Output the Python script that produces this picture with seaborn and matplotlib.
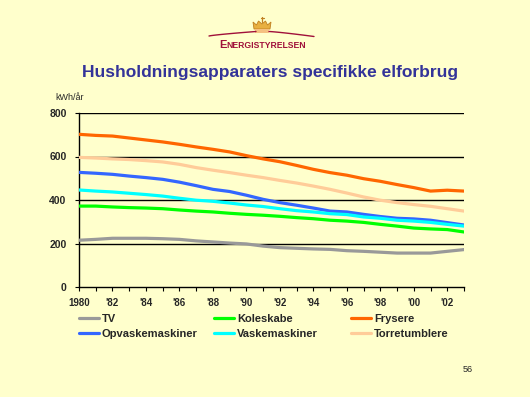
import numpy as np
import pandas as pd
import matplotlib
matplotlib.use("Agg")
import matplotlib.pyplot as plt
from matplotlib.patches import Polygon
from matplotlib.lines import Line2D
import seaborn as sns

years = list(range(1980, 2004))
tv = [215, 219, 224, 224, 224, 222, 219, 212, 207, 202, 198, 188, 181, 178, 175, 173, 167, 164, 160, 156, 156, 156, 164, 172]
koleskabe = [372, 372, 368, 365, 363, 360, 354, 349, 345, 339, 334, 330, 325, 319, 314, 307, 303, 297, 288, 280, 271, 267, 264, 253]
frysere = [702, 697, 694, 685, 676, 667, 656, 644, 633, 621, 604, 589, 576, 559, 541, 526, 514, 498, 486, 471, 457, 441, 445, 441]
opvask = [527, 523, 518, 510, 503, 495, 482, 466, 449, 439, 422, 403, 388, 376, 363, 349, 345, 334, 324, 316, 313, 307, 296, 285]
vaske = [446, 441, 437, 431, 425, 418, 408, 399, 394, 386, 377, 370, 360, 351, 345, 337, 333, 322, 316, 307, 303, 297, 288, 280]
torre = [596, 593, 589, 586, 581, 575, 564, 549, 537, 526, 514, 503, 490, 478, 464, 449, 432, 414, 399, 388, 379, 371, 360, 349]

series_names = ["TV", "Koleskabe", "Frysere", "Opvaskemaskiner", "Vaskemaskiner", "Torretumblere"]
series_vals = [tv, koleskabe, frysere, opvask, vaske, torre]
colors = ["#999999", "#00FF00", "#FF6600", "#3366FF", "#00FFFF", "#FFCC99"]
xtick_vals = list(range(1980, 2004, 2))
xtick_labels = ["1980", "'82", "'84", "'86", "'88", "'90", "'92", "'94", "'96", "'98", "'00", "'02"]
yticks = [0, 200, 400, 600, 800]

title = "Husholdningsapparaters specifikke elforbrug"
bg = "#FFFFCC"

rows = []
for name, vals in zip(series_names, series_vals):
    for y, v in zip(years, vals):
        rows.append({"year": y, "value": v, "series": name})
df = pd.DataFrame(rows)

sns.set_style("white")
plt.rcParams["font.family"] = ["Liberation Sans", "DejaVu Sans"]

W, H = 530, 397
def fx(x):
    return x / W
def fy(y):
    return 1 - y / H

fig = plt.figure(figsize=(5.30, 3.97), dpi=100, facecolor=bg)
ax = fig.add_axes([79/530, 1-287/397, (464-79)/530, (287-113)/397])
ax.set_facecolor(bg)

for g in [200, 400, 600, 800]:
    ax.axhline(g, color="black", lw=1.0, zorder=1)

sns.lineplot(data=df, x="year", y="value", hue="series", hue_order=series_names,
             palette=dict(zip(series_names, colors)), linewidth=2.3, ax=ax,
             legend=False, zorder=3)

ax.set_xlim(1980, 2003)
ax.set_ylim(0, 800)
ax.set_xticks(xtick_vals)
ax.set_xticks(years, minor=True)
ax.set_xticklabels(xtick_labels, fontsize=7, fontweight="bold")
ax.set_yticks(yticks)
ax.set_yticklabels([str(v) for v in yticks], fontsize=7.5, fontweight="bold")
ax.tick_params(axis="x", which="both", direction="out", length=3, width=0.8, color="black", pad=5, bottom=True)
ax.tick_params(axis="y", direction="out", length=3, width=0.8, color="black", pad=6, left=True)
ax.set_xlabel("")
ax.set_ylabel("")
for s in ["top", "right"]:
    ax.spines[s].set_visible(False)
for s in ["left", "bottom"]:
    ax.spines[s].set_color("black")
    ax.spines[s].set_linewidth(1.0)

fig.text(fx(55), fy(97), "kWh/år", fontsize=6.5, ha="left", va="center")

fig.text(fx(270), fy(72), title, fontsize=12.5, fontweight="bold", color="#333399",
         ha="center", va="center")

# legend: three columns placed like the reference
col_x = [79, 214, 351]
for c in range(3):
    idx = [c, c + 3]
    hs = [Line2D([0], [0], color=colors[i], lw=2.3) for i in idx]
    leg = fig.legend(hs, [series_names[i] for i in idx], ncol=1, loc="upper left",
                     bbox_to_anchor=(fx(col_x[c]), fy(314)), frameon=False,
                     fontsize=8, handlelength=1.8, handletextpad=0.25,
                     labelspacing=0.45, borderpad=0, borderaxespad=0)
    for t in leg.get_texts():
        t.set_fontweight("bold")

fig.text(fx(463), fy(370), "56", fontsize=6.5, ha="left", va="center")

# logo: arc
xs_l = np.linspace(209, 256, 30)
ys_l = 36 - 4.5 * ((xs_l - 209) / 47) ** 0.8
xs_r = np.linspace(269, 314, 30)
ys_r = 31.5 + 5 * ((xs_r - 269) / 45) ** 1.2
fig.add_artist(Line2D([fx(v) for v in xs_l], [fy(v) for v in ys_l], color="#A0103A", lw=1.0))
fig.add_artist(Line2D([fx(v) for v in xs_r], [fy(v) for v in ys_r], color="#A0103A", lw=1.0))
# crown
crown = [(254, 29), (253, 22), (256.5, 25), (258.5, 21), (262, 24), (265.5, 21), (267.5, 25), (271, 22), (270, 29)]
fig.add_artist(Polygon([(fx(a), fy(b)) for a, b in crown], closed=True, facecolor="#E8B040",
                       edgecolor="#C08020", lw=0.6, transform=fig.transFigure))
band = [(255, 29), (269, 29), (269, 32.5), (255, 32.5)]
fig.add_artist(Polygon([(fx(a), fy(b)) for a, b in band], closed=True, facecolor="#F5C080",
                       edgecolor="none", transform=fig.transFigure))
fig.add_artist(Line2D([fx(262), fx(262)], [fy(16.5), fy(21.5)], color="#C08020", lw=0.9))
fig.add_artist(Line2D([fx(260.5), fx(263.5)], [fy(18), fy(18)], color="#C08020", lw=0.9))
# small caps name
fig.text(fx(219), fy(48), "E", fontsize=8, fontweight="bold", color="#A0103A", ha="left", va="baseline")
fig.text(fx(226), fy(48), "NERGISTYRELSEN", fontsize=6.2, fontweight="bold", color="#A0103A",
         ha="left", va="baseline")

fig.savefig("out.png", dpi=100, facecolor=bg)
